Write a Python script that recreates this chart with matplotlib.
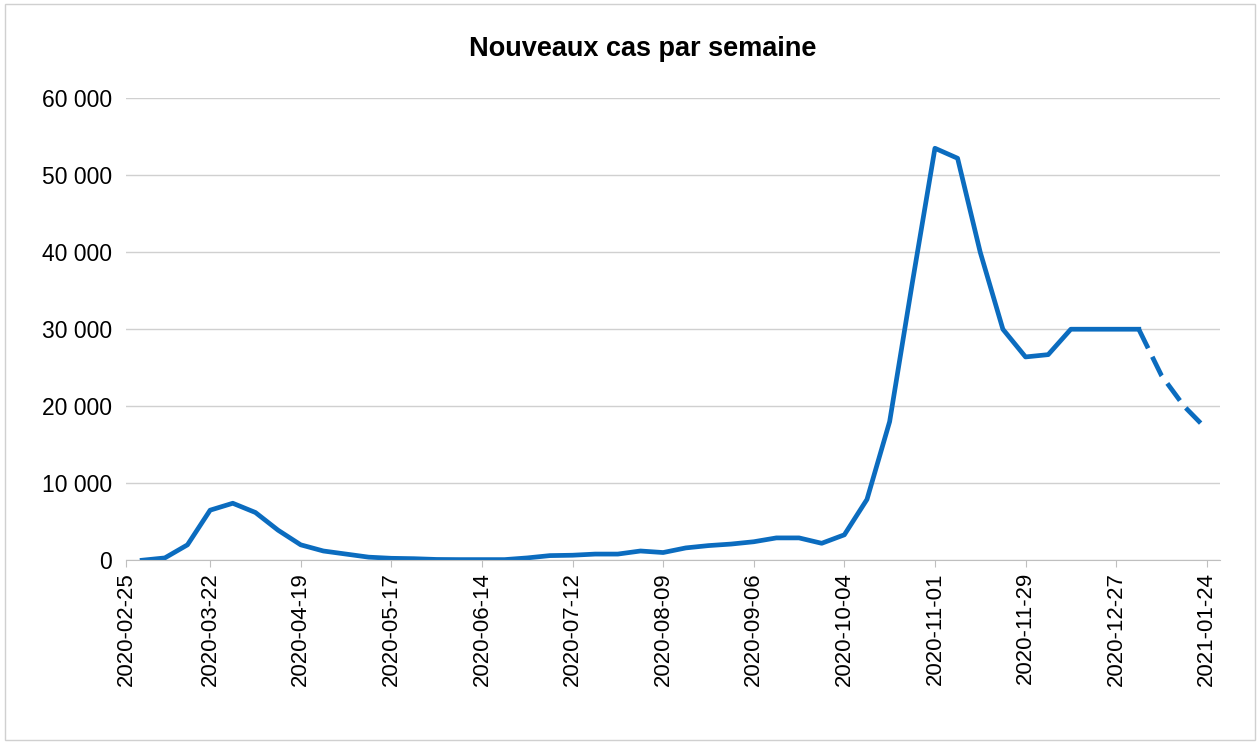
import matplotlib
matplotlib.use("Agg")
import matplotlib.pyplot as plt
import pandas as pd

plt.rcParams["font.family"] = "Liberation Sans"

start = "2020-03-01"
values = [0, 300, 2000, 6500, 7400, 6200, 3900, 2000, 1200, 800, 400, 250, 200, 100, 80, 80,
          80, 300, 600, 650, 800, 800, 1200, 1000, 1600, 1900, 2100, 2400, 2900, 2900, 2200, 3300,
          7900, 18000, 36000, 53500, 52200, 40000, 30000, 26400, 26700, 30000, 30000, 30000, 30000,
          24000, 20000, 17000]
dates = pd.date_range(start, periods=len(values), freq="7D")
dash_from = 44  # index of 2021-01-03
tick_labels = ["2020-02-25"] + [d.strftime("%Y-%m-%d") for d in pd.date_range("2020-03-22", "2021-01-24", freq="28D")]
yticks = [0, 10000, 20000, 30000, 40000, 50000, 60000]

fig = plt.figure(figsize=(12.6, 7.44), dpi=100)
ax = fig.add_axes([0.1, 0.247, 0.868, 0.621])
fig.patches.append(plt.Rectangle((0.004, 0.006), 0.992, 0.988, transform=fig.transFigure,
                                 fill=False, edgecolor="#d0d0d0", lw=1))
color = "#0b6cbf"
ax.plot(dates[:dash_from + 1], values[:dash_from + 1], color=color, lw=3.4, solid_joinstyle="round")
ax.plot(dates[dash_from:], values[dash_from:], color=color, lw=3.4, ls=(0, (4.5, 2)))

ax.set_xlim(pd.Timestamp("2020-02-26 12:00"), pd.Timestamp("2021-01-28"))
ax.set_ylim(0, 60000)
ax.set_yticks(yticks)
ax.set_yticklabels([f"{v:,}".replace(",", " ") for v in yticks], fontsize=16.5)
ax.set_xticks(pd.to_datetime(tick_labels))
ax.set_xticklabels(tick_labels, rotation=90, fontsize=16)
ax.grid(axis="y", color="#d0d0d0", lw=1)
ax.set_axisbelow(True)
for s in ["top", "right", "left"]:
    ax.spines[s].set_visible(False)
ax.spines["bottom"].set_color("#bfbfbf")
ax.tick_params(axis="y", length=0, pad=10)
ax.tick_params(axis="x", length=5, color="#bfbfbf")
fig.text(0.51, 0.925, "Nouveaux cas par semaine", ha="center", fontsize=19.5, fontweight="bold")
fig.savefig("out.png", dpi=100)
